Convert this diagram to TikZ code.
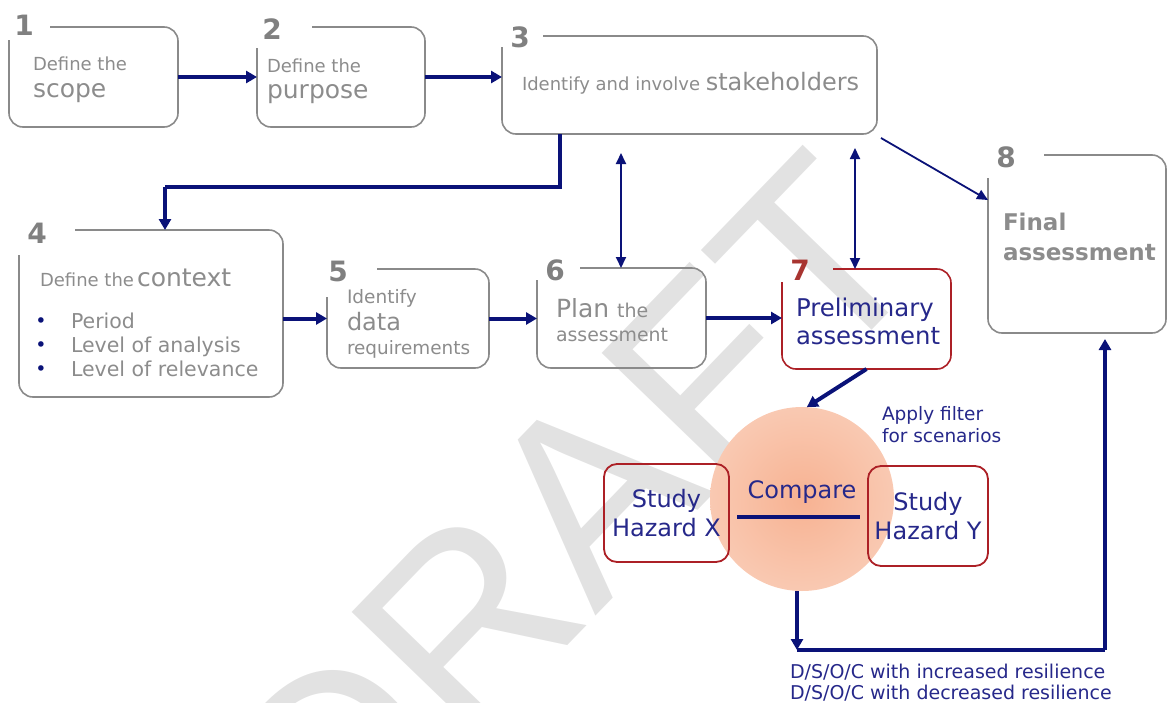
\documentclass[tikz,border=0pt]{standalone}
\usepackage{fontspec}
\setmainfont{DejaVu Sans}
\newfontfamily\wmfont{Liberation Sans}
\usetikzlibrary{arrows.meta,calc}

\definecolor{txtgray}{RGB}{140,140,140}
\definecolor{numgray}{RGB}{128,128,128}
\definecolor{framegray}{RGB}{138,138,138}
\definecolor{arrownavy}{RGB}{10,18,120}
\definecolor{textnavy}{RGB}{38,40,138}
\definecolor{redframe}{RGB}{172,32,38}
\definecolor{redseven}{RGB}{168,52,48}
\definecolor{wmgray}{RGB}{226,226,226}
\definecolor{peachin}{RGB}{247,178,146}
\definecolor{peachout}{RGB}{252,224,210}

\pgfdeclareradialshading{peachglow}{\pgfpoint{0bp}{0bp}}{%
  color(0bp)=(peachin); color(50bp)=(peachout); color(100bp)=(peachout)}

\newcommand\fsz[2]{\fontsize{#1}{#2}\selectfont}
% open frame: top edge starts #2 right of the corner, left edge starts #3 below it
\newcommand\openframe[4]{%
  \draw[framepen,#4] ($(#1.north west)+(#2,0)$) -- (#1.north east)
    -- (#1.south east) -- (#1.south west) -- ($(#1.north west)+(0,#3)$);}

\begin{document}
\begin{tikzpicture}[x=1pt,y=-1pt,
  every node/.style={inner sep=0pt, outer sep=0pt},
  framepen/.style={draw=framegray, line width=1.6pt, rounded corners=14pt},
  num/.style={font=\bfseries\fsz{28}{30}, text=numgray, anchor=center},
  gtxt/.style={text=txtgray, anchor=base west},
  ntxt/.style={text=textnavy, anchor=base west},
  bul/.style={anchor=base, text=arrownavy, font=\fsz{19}{22}},
  redbox/.style={draw=redframe, line width=1.8pt, rounded corners=13pt,
    text=textnavy, align=center, font=\fsz{24}{29}},
  flow/.style={draw=arrownavy, line width=4pt, -{Triangle[length=11pt,width=12pt]}},
  flowline/.style={draw=arrownavy, line width=4pt},
  thinflow/.style={draw=arrownavy, line width=1.8pt, -{Triangle[length=11pt,width=10pt]}},
  dflow/.style={draw=arrownavy, line width=1.8pt,
    {Triangle[length=11pt,width=10pt]}-{Triangle[length=11pt,width=10pt]}},
  wm/.style={text=wmgray, font=\wmfont\fsz{259}{259}}
]
\useasboundingbox (0,0) rectangle (1168,702);

% watermark
\begin{scope}
  \clip (0,0) rectangle (1168,702);
  \node[wm, rotate=46, anchor=base west] (draft) at (336,886) {DRAFT};
\end{scope}

% glow behind the comparison
\node[circle, minimum size=184pt, shading=peachglow] (cmp) at (802,499) {};

% step boxes (outlines drawn as open frames)
\node[minimum width=169pt, minimum height=100pt] (b1) at (93.5,77) {};
\node[minimum width=168pt, minimum height=100pt] (b2) at (341,77) {};
\node[minimum width=375pt, minimum height=98pt]  (b3) at (689.5,85) {};
\node[minimum width=264pt, minimum height=167pt] (b4) at (151,313.5) {};
\node[minimum width=162pt, minimum height=99pt]  (b5) at (408,318.5) {};
\node[minimum width=169pt, minimum height=100pt] (b6) at (621.5,318) {};
\node[minimum width=169pt, minimum height=100pt] (b7) at (866.5,319) {};
\node[minimum width=178pt, minimum height=178pt] (b8) at (1077,244) {};

\openframe{b1}{41}{13}{}
\openframe{b2}{55}{21}{}
\openframe{b3}{41}{11}{}
\openframe{b4}{56}{25}{}
\openframe{b5}{50}{28}{}
\openframe{b6}{43}{12}{}
\openframe{b7}{51}{13}{draw=redframe}
\openframe{b8}{56}{23}{}

% step numbers
\node[num] (n1) at (24,25) {1};
\node[num] (n2) at (272,29) {2};
\node[num] (n3) at (520,37) {3};
\node[num] (n4) at (37,233) {4};
\node[num] (n5) at (338,271) {5};
\node[num] (n6) at (555,270) {6};
\node[num, text=redseven] (n7) at (800,270) {7};
\node[num] (n8) at (1006,157) {8};

% step texts
\node[gtxt] (t1a) at (33,70) {\fsz{18}{22}Define the};
\node[gtxt] (t1b) at (33,97) {\fsz{25}{30}scope};
\node[gtxt] (t2a) at (267,72) {\fsz{18}{22}Define the};
\node[gtxt] (t2b) at (267,98) {\fsz{25}{30}purpose};
\node[gtxt] (t3) at (522,90) {\fsz{18}{22}Identify and involve \fsz{24}{29}stakeholders};
\node[gtxt] (t4) at (40,286) {\fsz{18}{22}Define the\,\fsz{25}{30}context};
\node[gtxt] (t4a) at (71,328) {\fsz{20.5}{24}Period};
\node[gtxt] (t4b) at (71,352) {\fsz{20.5}{24}Level of analysis};
\node[gtxt] (t4c) at (71,376) {\fsz{20.5}{24}Level of relevance};
\node[bul] (u4a) at (41,327) {•};
\node[bul] (u4b) at (41,351) {•};
\node[bul] (u4c) at (41,375) {•};
\node[gtxt] (t5a) at (347,303) {\fsz{18.5}{22}Identify};
\node[gtxt] (t5b) at (347,330) {\fsz{24}{29}data};
\node[gtxt] (t5c) at (347,354) {\fsz{18.4}{22}requirements};
\node[gtxt] (t6a) at (556,317) {\fsz{25}{30}Plan \fsz{19}{22}the};
\node[gtxt] (t6b) at (556,341) {\fsz{18.9}{22}assessment};
\node[ntxt] (t7a) at (796,316) {\fsz{24.4}{29}Preliminary};
\node[ntxt] (t7b) at (796,344) {\fsz{24.3}{29}assessment};
\node[gtxt] (t8a) at (1003,230) {\bfseries\fsz{23}{27}Final};
\node[gtxt] (t8b) at (1003,260) {\bfseries\fsz{23}{27}assessment};

% hazard studies and comparison
\node[redbox, minimum width=125pt, minimum height=98pt] (hx) at (666.5,513) {Study\\Hazard X};
\node[redbox, minimum width=120pt, minimum height=100pt] (hy) at (928,516) {Study\\Hazard Y};
\node[ntxt, anchor=base] (cmpt) at (802,498) {\fsz{24}{29}Compare};
\coordinate (cl1) at (737,517);
\coordinate (cl2) at (860,517);
\draw[flowline] (cl1) -- (cl2);

\node[ntxt] (flt1) at (882,420) {\fsz{18.5}{22}Apply filter};
\node[ntxt] (flt2) at (882,442) {\fsz{18.5}{22}for scenarios};
\node[ntxt] (res1) at (790,678) {\fsz{19}{22}D/S/O/C with increased resilience};
\node[ntxt] (res2) at (790,699) {\fsz{19}{22}D/S/O/C with decreased resilience};

% main flow
\draw[flow] (b1.east) -- (b2.west);
\draw[flow] (b2.east) -- (b2.east -| b3.west);
\coordinate (k34) at (560,187);
\coordinate (k4in) at (165,187);
\draw[flowline] (k34 |- b3.south) -- (k34) -- (k4in);
\draw[flow] (k4in) -- (k4in |- b4.north);
\draw[flow] (b5.west -| b4.east) -- (b5.west);
\draw[flow] (b5.east) -- (b5.east -| b6.west);
\draw[flow] (b6.east) -- (b6.east -| b7.west);

% stakeholder involvement
\coordinate (s6) at (621,153);
\coordinate (s7) at (855,148);
\draw[dflow] (s6) -- (s6 |- b6.north);
\draw[dflow] (s7) -- (s7 |- b7.north);
\coordinate (k38) at (881,138);
\coordinate (k8in) at (988,200);
\draw[thinflow] (k38) -- (k8in);

% preliminary to comparison and on to the final assessment
\draw[flow] (b7.south) -- (cmp.87);
\coordinate (kdn) at (797,650);
\coordinate (kup) at (1105,650);
\draw[flow] (kdn |- cmp.south) -- (kdn);
\draw[flowline] (kdn) -- (kup);
\draw[flow, shorten >=6pt] (kup) -- (kup |- b8.south);
\end{tikzpicture}
\end{document}
